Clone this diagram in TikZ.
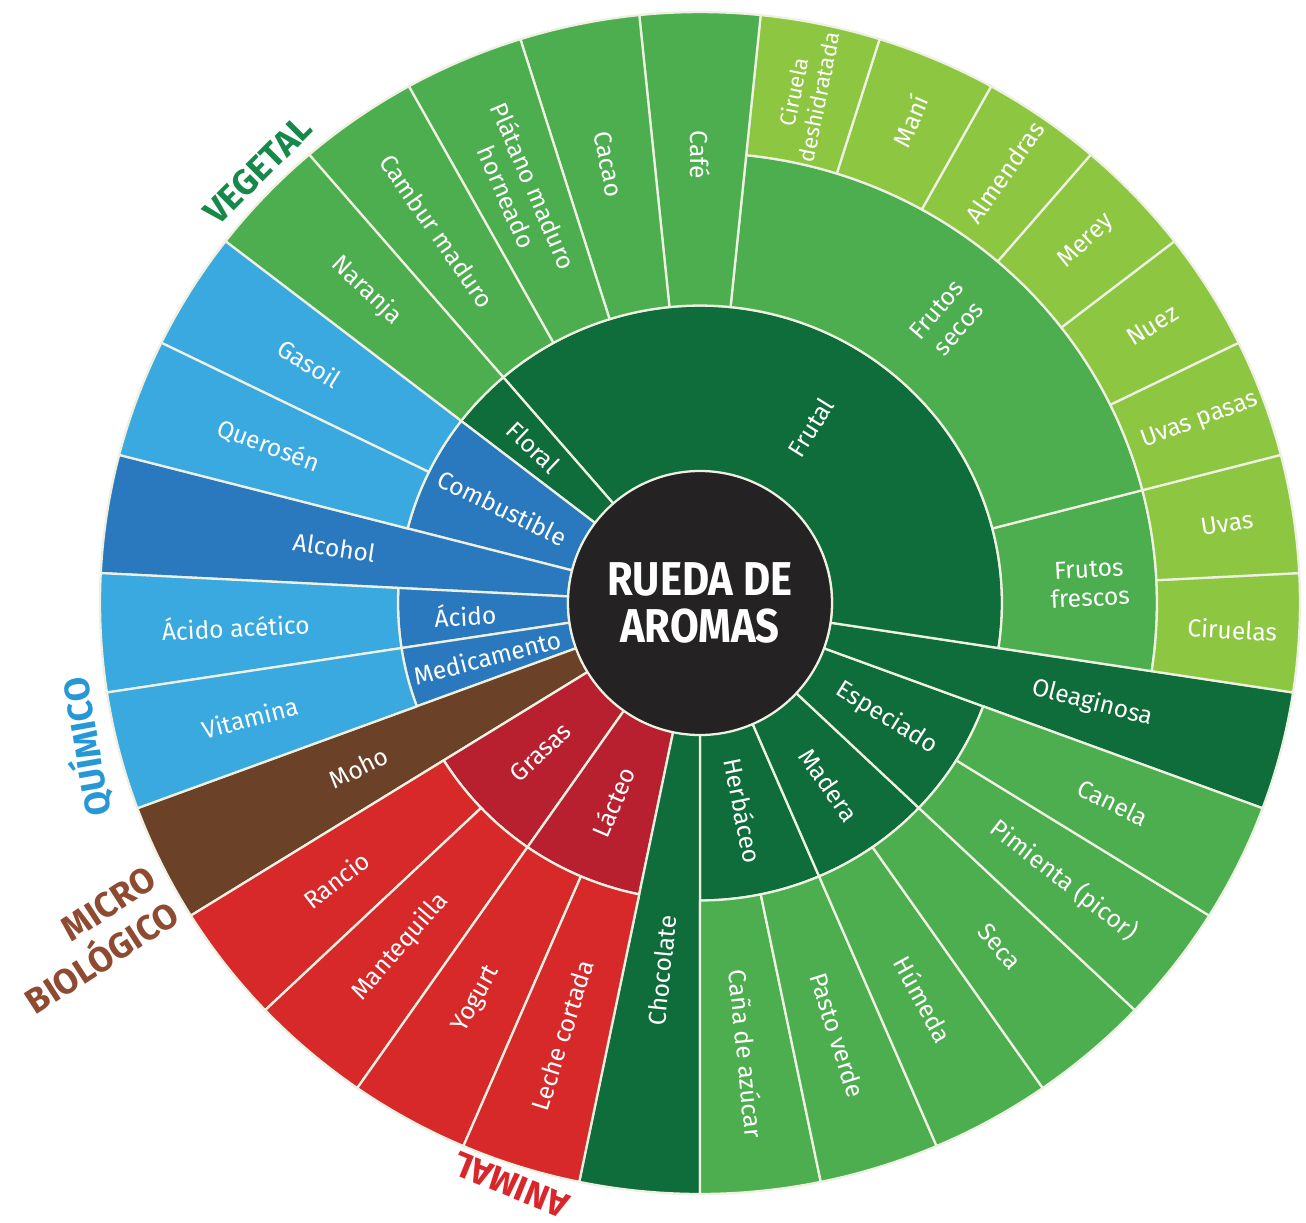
\documentclass[tikz,border=0pt]{standalone}
\usepackage{fontspec}
\setmainfont{Fira Sans}
\newfontfamily\hubfont[FakeStretch=0.88]{Fira Sans}

\definecolor{leafgreen}{HTML}{8DC640}
\definecolor{midgreen}{HTML}{4DAE4F}
\definecolor{deepgreen}{HTML}{0F6C3B}
\definecolor{lightblue}{HTML}{39A9DF}
\definecolor{deepblue}{HTML}{2A79BF}
\definecolor{mohobrown}{HTML}{6B4128}
\definecolor{fatred}{HTML}{B8202F}
\definecolor{brightred}{HTML}{D7292A}
\definecolor{hubgrey}{HTML}{242223}
\definecolor{seam}{HTML}{EEF0E2}
\definecolor{vegetalgreen}{HTML}{16884A}
\definecolor{quimicoblue}{HTML}{2598D5}
\definecolor{microbrown}{HTML}{8E4B31}
\definecolor{animalred}{HTML}{D8262B}

\newcommand{\ringpart}[5]{%
  \pgfmathsetmacro{\angA}{-90+(#2)*360/31}%
  \pgfmathsetmacro{\angB}{-90+(#3)*360/31}%
  \filldraw[ringslice,fill=#1] (\angA:#4) arc[start angle=\angA,end angle=\angB,radius=#4]
    -- (\angB:#5) arc[start angle=\angB,end angle=\angA,radius=#5] -- cycle;
}
\newcommand{\ringlabel}[5][]{%
  \pgfmathsetmacro{\angM}{-90+(#3)*360/31}%
  \pgfmathsetmacro{\rotM}{\angM<89 ? \angM : \angM-180}%
  \node[leaftext,rotate=\rotM,#1] (#2) at (\angM:#4) {#5};
}

\begin{document}
\begin{tikzpicture}[scale=0.2,
    ringslice/.style={draw=seam,line width=1.3pt,line join=round},
    leaftext/.style={text=white,font=\fontsize{14}{16.5}\selectfont,align=center,inner sep=0pt},
    grouptext/.style={font=\bfseries\fontsize{20}{24}\selectfont,align=right,inner sep=0pt},
    hub/.style={circle,fill=hubgrey,draw=seam,line width=1.3pt,minimum size=5.28cm,inner sep=0pt,
      text=white,font=\hubfont\bfseries\fontsize{27}{27}\selectfont,align=center}]
    \useasboundingbox (-70,-61.9) rectangle (60.6,60.3);

    \begin{scope}[yscale=0.985]
    \ringpart{deepgreen}{0}{2}{13.2}{30.2}
    \ringpart{deepgreen}{2}{4}{13.2}{30.2}
    \ringpart{deepgreen}{4}{6}{13.2}{30.2}
    \ringpart{deepgreen}{6}{7}{13.2}{60}
    \ringpart{deepgreen}{7}{19}{13.2}{30.2}
    \ringpart{deepgreen}{19}{20}{13.2}{30.2}
    \ringpart{deepblue}{20}{22}{13.2}{30.2}
    \ringpart{deepblue}{22}{23}{13.2}{60}
    \ringpart{deepblue}{23}{24}{13.2}{30.2}
    \ringpart{deepblue}{24}{25}{13.2}{30.2}
    \ringpart{mohobrown}{25}{26}{13.2}{60}
    \ringpart{fatred}{26}{28}{13.2}{30.2}
    \ringpart{fatred}{28}{30}{13.2}{30.2}
    \ringpart{deepgreen}{30}{31}{13.2}{60}

    \ringpart{midgreen}{7}{9}{30.2}{45.7}
    \ringpart{midgreen}{9}{15}{30.2}{45.7}

    \ringpart{midgreen}{0}{1}{30.2}{60}
    \ringpart{midgreen}{1}{2}{30.2}{60}
    \ringpart{midgreen}{2}{3}{30.2}{60}
    \ringpart{midgreen}{3}{4}{30.2}{60}
    \ringpart{midgreen}{4}{5}{30.2}{60}
    \ringpart{midgreen}{5}{6}{30.2}{60}
    \ringpart{leafgreen}{7}{8}{45.7}{60}
    \ringpart{leafgreen}{8}{9}{45.7}{60}
    \ringpart{leafgreen}{9}{10}{45.7}{60}
    \ringpart{leafgreen}{10}{11}{45.7}{60}
    \ringpart{leafgreen}{11}{12}{45.7}{60}
    \ringpart{leafgreen}{12}{13}{45.7}{60}
    \ringpart{leafgreen}{13}{14}{45.7}{60}
    \ringpart{leafgreen}{14}{15}{45.7}{60}
    \ringpart{midgreen}{15}{16}{30.2}{60}
    \ringpart{midgreen}{16}{17}{30.2}{60}
    \ringpart{midgreen}{17}{18}{30.2}{60}
    \ringpart{midgreen}{18}{19}{30.2}{60}
    \ringpart{midgreen}{19}{20}{30.2}{60}
    \ringpart{lightblue}{20}{21}{30.2}{60}
    \ringpart{lightblue}{21}{22}{30.2}{60}
    \ringpart{lightblue}{23}{24}{30.2}{60}
    \ringpart{lightblue}{24}{25}{30.2}{60}
    \ringpart{brightred}{26}{27}{30.2}{60}
    \ringpart{brightred}{27}{28}{30.2}{60}
    \ringpart{brightred}{28}{29}{30.2}{60}
    \ringpart{brightred}{29}{30}{30.2}{60}

    \ringlabel{herbaceo}{1}{21.5}{Herbáceo}
    \ringlabel{madera}{3}{22.5}{Madera}
    \ringlabel{especiado}{5}{22}{Especiado}
    \ringlabel{frutal}{12.75}{21}{Frutal}
    \ringlabel{floral}{19.5}{23}{Floral}
    \ringlabel{combustible}{21}{22}{Combustible}
    \ringlabel{acido}{23.5}{23.5}{Ácido}
    \ringlabel{medicamento}{24.5}{22}{Medicamento}
    \ringlabel{grasas}{27}{22}{Grasas}
    \ringlabel{lacteo}{29}{22}{Lácteo}
    \ringlabel{frescos}{8}{39}{Frutos\\frescos}
    \ringlabel{secos}{12}{38}{Frutos\\secos}

    \ringlabel{cana}{0.5}{46}{Caña de azúcar}
    \ringlabel{pasto}{1.5}{46}{Pasto verde}
    \ringlabel{humeda}{2.5}{46}{Húmeda}
    \ringlabel{seca}{3.5}{46}{Seca}
    \ringlabel{pimienta}{4.5}{46}{Pimienta (picor)}
    \ringlabel{canela}{5.5}{46}{Canela}
    \ringlabel{oleaginosa}{6.5}{40.5}{Oleaginosa}
    \ringlabel{ciruelas}{7.5}{53.3}{Ciruelas}
    \ringlabel{uvas}{8.5}{53.3}{Uvas}
    \ringlabel{pasas}{9.5}{53.3}{Uvas pasas}
    \ringlabel{nuez}{10.5}{53.3}{Nuez}
    \ringlabel{merey}{11.5}{53.3}{Merey}
    \ringlabel{almendras}{12.5}{53.3}{Almendras}
    \ringlabel{mani}{13.5}{53.3}{Maní}
    \ringlabel[font=\fontsize{12.5}{14.5}\selectfont]{deshidratada}{14.5}{52.7}{Ciruela\\deshidratada}
    \ringlabel{cafe}{15.5}{45.5}{Café}
    \ringlabel{cacao}{16.5}{45.5}{Cacao}
    \ringlabel{platano}{17.5}{45.5}{Plátano maduro\\horneado}
    \ringlabel{cambur}{18.5}{46}{Cambur maduro}
    \ringlabel{naranja}{19.5}{46}{Naranja}
    \ringlabel{gasoil}{20.5}{46}{Gasoil}
    \ringlabel{querosen}{21.5}{46}{Querosén}
    \ringlabel{alcohol}{22.5}{37}{Alcohol}
    \ringlabel{acetico}{23.5}{46.5}{Ácido acético}
    \ringlabel{vitamina}{24.5}{46.5}{Vitamina}
    \ringlabel{moho}{25.5}{38}{Moho}
    \ringlabel{rancio}{26.5}{46}{Rancio}
    \ringlabel{mantequilla}{27.5}{46}{Mantequilla}
    \ringlabel{yogurt}{28.5}{46}{Yogurt}
    \ringlabel{leche}{29.5}{46}{Leche cortada}
    \ringlabel{chocolate}{30.5}{37.5}{Chocolate}
    \end{scope}

    \node[hub] (hub) at (0,0) {RUEDA DE\\AROMAS};

    \node[grouptext,text=vegetalgreen,rotate=45] (vegetal) at (-44.2,43.3) {VEGETAL};
    \node[grouptext,text=quimicoblue,rotate=100] (quimico) at (-61.5,-14.4) {QUÍMICO};
    \node[grouptext,text=microbrown,rotate=33,anchor=east] (micro) at (-53.6,-29.0) {MICRO\\BIOLÓGICO};
    \node[grouptext,text=animalred,rotate=158] (animal) at (-18.9,-58.2) {ANIMAL};
\end{tikzpicture}
\end{document}
